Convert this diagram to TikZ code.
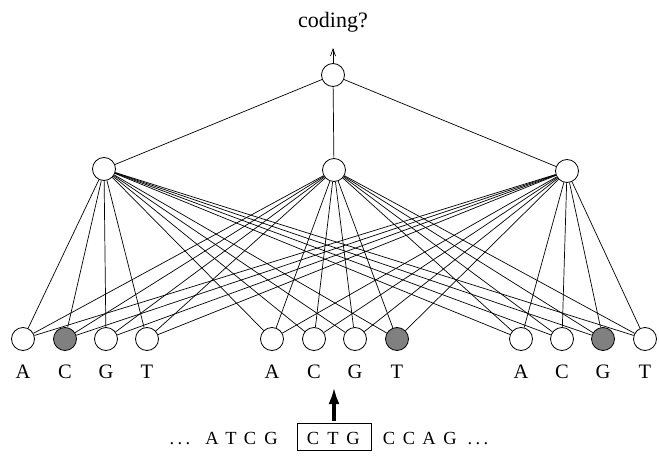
\documentclass[tikz,border=0pt]{standalone}
\usepackage{fontspec}
\setmainfont{Liberation Serif}
\usetikzlibrary{arrows.meta}

\begin{document}
\begin{tikzpicture}[x=1pt,y=-1pt,
    unit/.style={circle,draw,line width=0.8pt,minimum size=23pt,inner sep=0pt,fill=white},
    hot/.style={unit,fill=black!50},
    wire/.style={line width=0.7pt},
    lab/.style={font=\fontsize{20.5}{24}\selectfont,inner sep=0pt},
    seq/.style={font=\fontsize{18.5}{22}\selectfont,inner sep=0pt,anchor=base}]
  \useasboundingbox (0,0) rectangle (659,460);

  % output unit and its label
  \node[unit] (out) at (333,75) {};
  \node[font=\fontsize{22}{26}\selectfont,inner sep=0pt] (coding) at (333,22) {coding?};
  \coordinate (tip) at (333,48);
  \draw[wire,-{Straight Barb[length=7pt,width=5pt]}] (out) -- (tip);

  % hidden units
  \node[unit] (h1) at (104,169) {};
  \node[unit] (h2) at (334,170) {};
  \node[unit] (h3) at (567,171) {};

  % connections
  \foreach \h in {h1,h2,h3}
    \draw[wire] (out) -- (\h);

  % input units, three codon positions, each wired to every hidden unit
  \foreach \i/\x/\s/\l in {1/23/unit/A, 2/65/hot/C, 3/106/unit/G, 4/147/unit/T,
                           5/272/unit/A, 6/314/unit/C, 7/355/unit/G, 8/397/hot/T,
                           9/521/unit/A, 10/562/unit/C, 11/603/hot/G, 12/645/unit/T} {
    \node[\s] (i\i) at (\x,339) {};
    \node[lab] (l\i) at (\x,372) {\l};
    \foreach \h in {h1,h2,h3}
      \draw[wire] (\h) -- (i\i);
  }

  % DNA sequence with the current window
  \foreach \n/\x/\c in {d1/172/., d2/180/., d3/188/., a1/212/A, a2/231/T, a3/250/C, a4/271/G,
                        w1/313/C, w2/333/T, w3/353/G,
                        b1/389/C, b2/409/C, b3/429/A, b4/450/G,
                        e1/470/., e2/478/., e3/486/.}
    \node[seq] (\n) at (\x,444) {\c};
  \node[draw,line width=0.8pt,inner sep=0pt,minimum width=74pt,minimum height=27pt] (win) at (334.5,437) {};
  \coordinate (shaft) at (334,421);
  \coordinate (arrowtip) at (334,387);
  \draw[line width=3.5pt,-{Latex[length=17pt,width=11pt]}] (shaft) -- (arrowtip);
\end{tikzpicture}
\end{document}
